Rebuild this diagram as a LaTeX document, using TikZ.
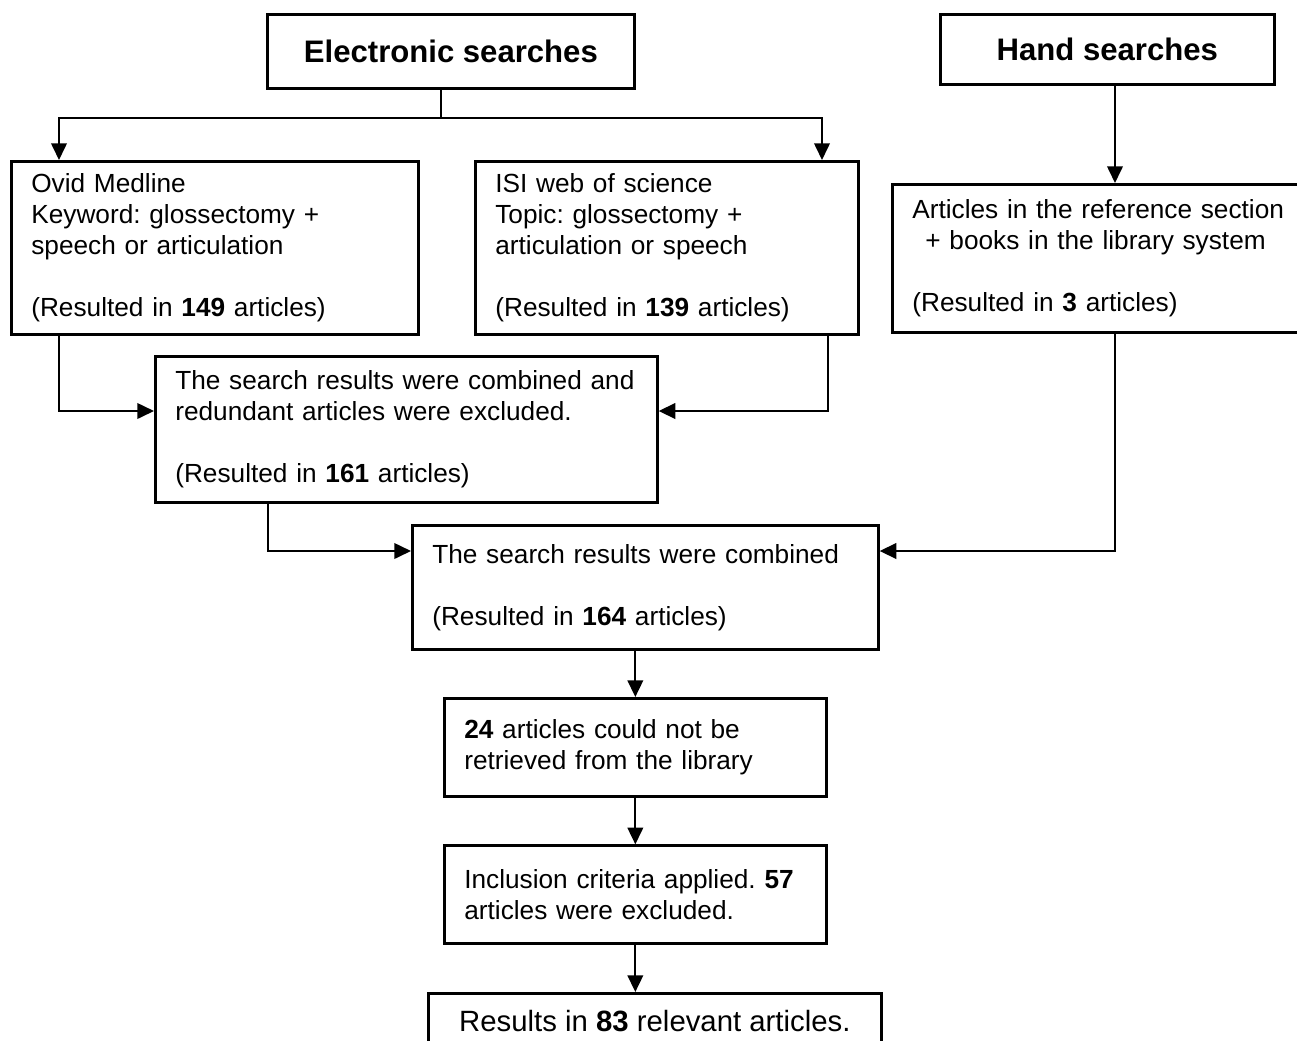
\documentclass[tikz,border=0pt]{standalone}
\usepackage{fontspec}
\setmainfont{Liberation Sans}
\frenchspacing
\usetikzlibrary{positioning,arrows.meta}

\begin{document}
\begin{tikzpicture}[
x = 0.45pt, y = -0.45pt,
box/.style={rectangle, draw=black, line width=1.2pt, anchor=north west, align=left, inner xsep=9pt, inner ysep=0pt, font=\fontsize{11.8}{13.9}\selectfont},
head/.style={box, align=center, font=\fontsize{14}{16}\selectfont\bfseries},
link/.style={line width=0.9pt},
flow/.style={-{Triangle[length=7.5pt,width=7pt]}, line width=0.9pt}]

\path[use as bounding box, clip] (0,0) rectangle (1297,1041);

\node[head, minimum width=165.2pt, minimum height=33.3pt] (es) at (266,13) {Electronic searches};
\node[head, minimum width=150.3pt, minimum height=31.5pt] (hs) at (939,13) {Hand searches};

\node[box, text width=165.15pt, minimum height=77.85pt] (ovid) at (10,160) {Ovid Medline\\Keyword: glossectomy +\\speech or articulation\\[13.9pt](Resulted in \textbf{149} articles)};
\node[box, text width=154.35pt, minimum height=77.85pt] (isi) at (474,160) {ISI web of science\\Topic: glossectomy +\\articulation or speech\\[13.9pt](Resulted in \textbf{139} articles)};
\node[box, text width=171pt, minimum height=66.6pt] (art) at (891,183) {Articles in the reference section\\\hspace*{0.5em}+ books in the library system\\[13.9pt](Resulted in \textbf{3} articles)};

\node[box, text width=207.9pt, minimum height=65.7pt] (comb1) at (154,355) {The search results were combined and\\redundant articles were excluded.\\[13.9pt](Resulted in \textbf{161} articles)};
\node[box, text width=191.7pt, minimum height=55.8pt] (comb2) at (411,524) {The search results were combined\\[13.9pt](Resulted in \textbf{164} articles)};

\node[box, text width=153.9pt, minimum height=44.1pt] (lib) at (443,697) {\textbf{24} articles could not be\\retrieved from the library};
\node[box, text width=153.9pt, minimum height=44.1pt, below = 21pt of lib] (incl) {Inclusion criteria applied. \textbf{57}\\articles were excluded.};
\node[box, align=center, minimum width=203.85pt, minimum height=25.2pt, font=\fontsize{13.2}{15.5}\selectfont] (res) at (427,992) {Results in \textbf{83} relevant articles.};

\coordinate (fork) at (441,118);
\coordinate (j1) at (59,411);
\coordinate (j2) at (828,411);
\coordinate (j3) at (268,551);
\coordinate (j4) at (1115,551);
\coordinate (k2) at (822,118);

\draw[link] (es.south -| fork) -- (fork);
\draw[flow] (fork) -| (ovid.north -| j1);
\draw[flow] (fork) -| (isi.north -| k2);
\draw[flow] (hs.south -| j4) -- (art.north -| j4);

\draw[flow] (ovid.south -| j1) |- (comb1.west |- j1);
\draw[flow] (isi.south -| j2) |- (comb1.east |- j2);

\draw[flow] (comb1.south -| j3) |- (comb2.west |- j3);
\draw[flow] (art.south -| j4) |- (comb2.east |- j4);

\draw[flow] (comb2.south -| lib.north) -- (lib.north);
\draw[flow] (lib) -- (incl);
\draw[flow] (incl) -- (res.north -| incl.south);
\end{tikzpicture}
\end{document}
